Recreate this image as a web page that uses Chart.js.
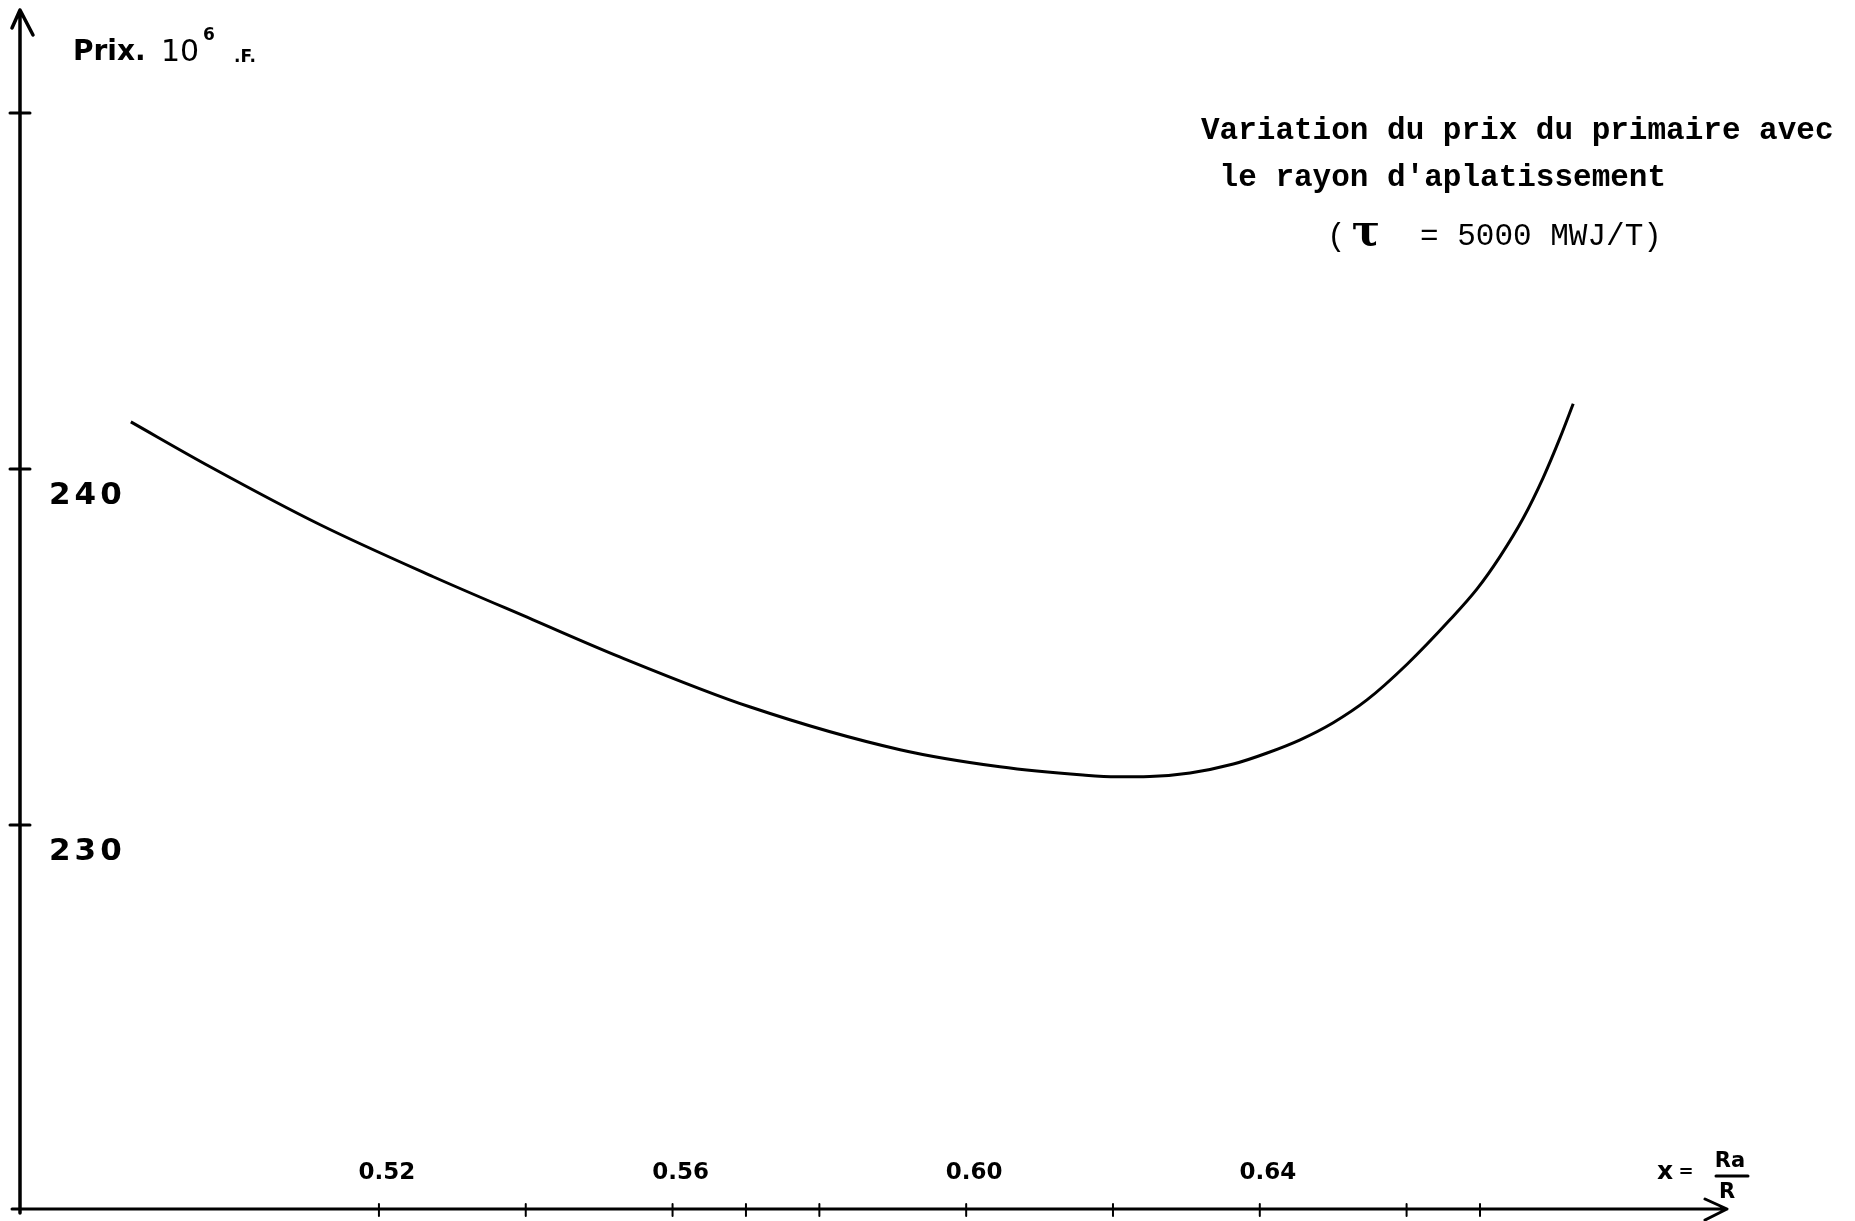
<!DOCTYPE html>
<html>
<head>
<meta charset="utf-8">
<script src="https://cdn.jsdelivr.net/npm/chart.js@4/dist/chart.umd.min.js"></script>
<style>
  html, body { margin: 0; padding: 0; background: #fff; }
  #wrap { width: 1855px; height: 1221px; position: relative; }
</style>
</head>
<body>
<div id="wrap"><canvas id="c"></canvas></div>
<script>
// Rayon d'aplatissement x = Ra/R and price of the primary circuit (10^6 F)
const ratio = [0.4862, 0.4970, 0.5120, 0.5274, 0.5410, 0.5528, 0.5706, 0.5910, 0.6046, 0.6159,
               0.6205, 0.6250, 0.6305, 0.6364, 0.6410, 0.6455, 0.6500, 0.6546, 0.6601, 0.6659,
               0.6696, 0.6727, 0.6759, 0.6786, 0.6809, 0.6827];
const price = [241.32, 240.06, 238.43, 236.97, 235.76, 234.72, 233.31, 232.11, 231.63, 231.40,
               231.35, 231.36, 231.46, 231.71, 232.02, 232.39, 232.87, 233.51, 234.52, 235.76,
               236.63, 237.53, 238.62, 239.75, 240.87, 241.83];

// Axis marks
const xTickValues = [0.52, 0.54, 0.56, 0.57, 0.58, 0.60, 0.62, 0.64, 0.66, 0.67];
const xLabelValues = [0.52, 0.56, 0.60, 0.64];
const xLabelTexts = ['0.52', '0.56', '0.60', '0.64'];
const yTickValues = [250, 240, 230];
const yLabelValues = [240, 230];
const yLabelTexts = ['240', '230'];

const titleLines = ['Variation du prix du primaire avec', " le rayon d'aplatissement"];
const burnupText = '(    = 5000 MWJ/T)';

const axesPlugin = {
  id: 'handAxes',
  afterDraw(chart) {
    const ctx = chart.ctx;
    const xs = chart.scales.x, ys = chart.scales.y;
    const x0 = xs.getPixelForValue(xs.min);
    const xEnd = xs.getPixelForValue(xs.max);
    const y0 = ys.getPixelForValue(ys.min);
    const yEnd = ys.getPixelForValue(ys.max);
    ctx.save();
    ctx.strokeStyle = '#000';
    ctx.fillStyle = '#000';
    ctx.lineCap = 'round';
    ctx.lineJoin = 'round';

    // vertical axis with arrow
    ctx.lineWidth = 3.5;
    ctx.beginPath();
    ctx.moveTo(x0, y0 + 4);
    ctx.lineTo(x0, yEnd);
    ctx.moveTo(x0 - 8, yEnd + 18);
    ctx.lineTo(x0, yEnd);
    ctx.lineTo(x0 + 13, yEnd + 25);
    ctx.stroke();

    // horizontal axis with arrow
    ctx.lineWidth = 3;
    ctx.beginPath();
    ctx.moveTo(x0 - 8, y0);
    ctx.lineTo(xEnd, y0);
    ctx.moveTo(xEnd - 22, y0 - 10);
    ctx.lineTo(xEnd, y0);
    ctx.lineTo(xEnd - 22, y0 + 11);
    ctx.stroke();

    // ticks on vertical axis
    ctx.lineWidth = 3;
    yTickValues.forEach(v => {
      const y = ys.getPixelForValue(v);
      ctx.beginPath();
      ctx.moveTo(x0 - 10, y);
      ctx.lineTo(x0 + 10, y);
      ctx.stroke();
    });

    // ticks on horizontal axis
    ctx.lineWidth = 2;
    xTickValues.forEach(v => {
      const x = xs.getPixelForValue(v);
      ctx.beginPath();
      ctx.moveTo(x, y0 - 5);
      ctx.lineTo(x, y0 + 7);
      ctx.stroke();
    });

    // horizontal tick labels (above the axis)
    ctx.font = 'bold 23px "DejaVu Sans"';
    ctx.textAlign = 'center';
    ctx.textBaseline = 'middle';
    xLabelValues.forEach((v, i) => {
      ctx.fillText(xLabelTexts[i], xs.getPixelForValue(v) + 8, y0 - 36);
    });

    // vertical tick labels (right of the axis, just below the tick)
    ctx.font = 'bold 31px "DejaVu Sans"';
    ctx.textAlign = 'left';
    ctx.letterSpacing = '4px';
    yLabelValues.forEach((v, i) => {
      ctx.fillText(yLabelTexts[i], x0 + 29, ys.getPixelForValue(v) + 27);
    });
    ctx.letterSpacing = '0px';

    // vertical axis title: Prix. 10^6 .F.
    ctx.textBaseline = 'alphabetic';
    ctx.font = 'bold 28px "DejaVu Sans"';
    ctx.fillText('Prix.', 73, 60);
    ctx.font = '30px "DejaVu Sans"';
    ctx.fillText('10', 161, 61);
    ctx.font = 'bold 17px "DejaVu Sans"';
    ctx.fillText('6', 203, 40);
    ctx.fillText('.F.', 234, 62);

    // horizontal axis title: x = Ra / R
    ctx.font = 'bold 25px "DejaVu Sans"';
    ctx.textAlign = 'center';
    ctx.fillText('x', 1665, 1179);
    ctx.font = 'bold 18px "DejaVu Sans"';
    ctx.fillText('=', 1686, 1177);
    ctx.font = 'bold 21px "DejaVu Sans"';
    ctx.fillText('Ra', 1730, 1167);
    ctx.fillText('R', 1727, 1198);
    ctx.lineWidth = 3;
    ctx.beginPath();
    ctx.moveTo(1716, 1176);
    ctx.lineTo(1748, 1176);
    ctx.stroke();

    // chart heading
    ctx.textAlign = 'left';
    ctx.textBaseline = 'middle';
    ctx.font = 'bold 31px "Liberation Mono"';
    ctx.fillText(titleLines[0], 1201, 131);
    ctx.fillText(titleLines[1], 1201, 178);
    ctx.font = '31px "Liberation Mono"';
    ctx.fillText(burnupText, 1327, 237);
    ctx.font = 'bold 42px "DejaVu Serif"';
    ctx.textAlign = 'center';
    ctx.fillText('\u03C4', 1366, 234);

    ctx.restore();
  }
};

new Chart(document.getElementById('c'), {
  type: 'line',
  data: {
    datasets: [{
      data: ratio.map((r, i) => ({ x: r, y: price[i] })),
      borderColor: '#000',
      borderWidth: 3,
      pointRadius: 0,
      fill: false,
      cubicInterpolationMode: 'monotone',
      clip: false
    }]
  },
  options: {
    responsive: true,
    maintainAspectRatio: false,
    animation: false,
    layout: { padding: { left: 20, right: 128, top: 10, bottom: 12 } },
    plugins: { legend: { display: false }, tooltip: { enabled: false }, title: { display: false } },
    scales: {
      x: { type: 'linear', min: 0.4711, max: 0.70365, display: false },
      y: { type: 'linear', min: 219.21, max: 252.89, display: false }
    }
  },
  plugins: [axesPlugin]
});
</script>
</body>
</html>
